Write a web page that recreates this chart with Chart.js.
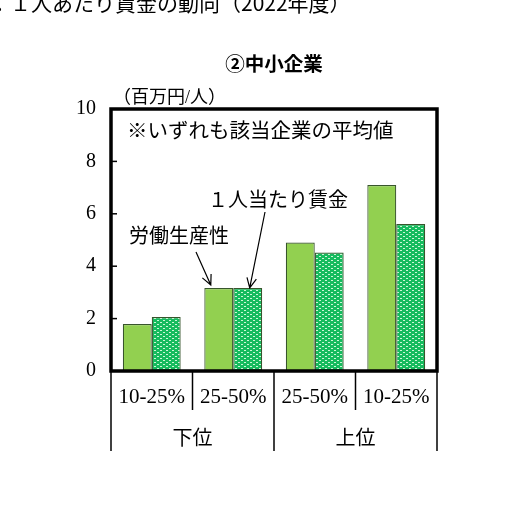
<!DOCTYPE html>
<html>
<head>
<meta charset="utf-8">
<script src="https://cdn.jsdelivr.net/npm/chart.js@4/dist/chart.umd.min.js"></script>
<style>
  html, body { margin: 0; padding: 0; background: #fff; }
  #wrap { width: 513px; height: 532px; position: relative; }
</style>
</head>
<body>
<div id="wrap"><canvas id="c" width="513" height="532"></canvas></div>
<script>
// values (百万円/人)
const categories = ["10-25%", "25-50%", "25-50%", "10-25%"];
const groups = ["下位", "上位"];
const productivity = [1.79, 3.17, 4.9, 7.1];
const wagePerHead = [2.06, 3.17, 4.52, 5.61];
const seriesNames = ["労働生産性", "１人当たり賃金"];

const serif = "'Liberation Serif', 'Noto Sans CJK JP', serif";
const cjk = "'Noto Sans CJK JP', sans-serif";

// dotted green fill for the wage bars
function makePattern() {
  const p = document.createElement("canvas");
  p.width = 6;
  p.height = 4;
  const g = p.getContext("2d");
  g.fillStyle = "#16bb5e";
  g.fillRect(0, 0, 6, 4);
  g.fillStyle = "#cdf7d6";
  g.fillRect(1, 0, 2, 1);
  g.fillRect(4, 2, 2, 1);
  return g.createPattern(p, "repeat");
}

function arrow(ctx, x1, y1, x2, y2) {
  const a = Math.atan2(y2 - y1, x2 - x1);
  const h = 11;
  ctx.beginPath();
  ctx.moveTo(x1, y1);
  ctx.lineTo(x2, y2);
  ctx.moveTo(x2 - h * Math.cos(a - 0.45), y2 - h * Math.sin(a - 0.45));
  ctx.lineTo(x2, y2);
  ctx.lineTo(x2 - h * Math.cos(a + 0.45), y2 - h * Math.sin(a + 0.45));
  ctx.stroke();
}

const decorations = {
  id: "decorations",
  afterDatasetsDraw(chart) {
    const ctx = chart.ctx;
    const area = chart.chartArea;
    const x = chart.scales.x;
    const y = chart.scales.y;
    const step = (x.right - x.left) / categories.length;
    ctx.save();

    // titles
    ctx.fillStyle = "#000";
    ctx.textBaseline = "alphabetic";
    ctx.textAlign = "left";
    ctx.font = "21px " + cjk;
    ctx.fillText("：１人あたり賃金の動向（2022年度）", -11, 11);
    ctx.textAlign = "center";
    ctx.font = "bold 19.5px " + cjk;
    ctx.fillText("②中小企業", (area.left + area.right) / 2, 71);

    // unit
    ctx.textAlign = "left";
    ctx.font = "18px " + serif;
    ctx.fillText("（百万円/人）", 113, 103);

    // inner tick marks on y
    ctx.strokeStyle = "#000";
    ctx.lineWidth = 1.5;
    for (let v = 2; v < 10; v += 2) {
      const py = y.getPixelForValue(v);
      ctx.beginPath();
      ctx.moveTo(area.left, py);
      ctx.lineTo(area.left + 6, py);
      ctx.stroke();
    }

    // category separators under the axis
    ctx.lineWidth = 1.5;
    for (let i = 0; i <= categories.length; i++) {
      const px = x.left + i * step;
      const long = i % 2 === 0;
      ctx.beginPath();
      ctx.moveTo(px, area.bottom);
      ctx.lineTo(px, area.bottom + (long ? 80 : 39));
      ctx.stroke();
    }

    // group labels
    ctx.textAlign = "center";
    ctx.font = "20px " + serif;
    groups.forEach((g, i) => {
      const cx = (x.getPixelForValue(i * 2) + x.getPixelForValue(i * 2 + 1)) / 2;
      ctx.fillText(g, cx, area.bottom + 74);
    });

    // plot frame
    ctx.lineWidth = 3.5;
    ctx.strokeRect(area.left, area.top, area.right - area.left, area.bottom - area.top);

    // notes and series labels
    ctx.textAlign = "left";
    ctx.font = "20.5px " + serif;
    ctx.fillText("※いずれも該当企業の平均値", area.left + 16, 138);
    ctx.font = "20px " + serif;
    ctx.fillText(seriesNames[1], 208, 207);
    ctx.fillText(seriesNames[0], 129, 243);

    // arrows to the second group of bars
    const b0 = chart.getDatasetMeta(0).data[1];
    const b1 = chart.getDatasetMeta(1).data[1];
    ctx.lineWidth = 1.2;
    arrow(ctx, 196, 252, b0.x - 8, b0.y - 3);
    arrow(ctx, 265, 212, b1.x + 2, b1.y);
    ctx.restore();
  }
};

new Chart(document.getElementById("c"), {
  type: "bar",
  data: {
    labels: categories,
    datasets: [
      {
        label: seriesNames[0],
        data: productivity,
        backgroundColor: "#92d050",
        borderColor: "#38552c",
        borderWidth: 1.2
      },
      {
        label: seriesNames[1],
        data: wagePerHead,
        backgroundColor: makePattern(),
        borderColor: "#38552c",
        borderWidth: 1.2
      }
    ]
  },
  options: {
    responsive: false,
    animation: false,
    layout: { padding: { left: 61, right: 76, top: 109, bottom: 81 } },
    datasets: { bar: { categoryPercentage: 0.71, barPercentage: 1 } },
    plugins: { legend: { display: false }, tooltip: { enabled: false } },
    scales: {
      x: {
        grid: { display: false, drawTicks: false },
        border: { display: false },
        ticks: { color: "#000", font: { family: serif, size: 21 }, padding: 14, maxRotation: 0, autoSkip: false },
        afterFit: (s) => { s.height = 80; }
      },
      y: {
        min: 0,
        max: 10,
        grid: { display: false, drawTicks: false },
        border: { display: false },
        ticks: { stepSize: 2, color: "#000", font: { family: serif, size: 20 }, padding: 15 },
        afterFit: (s) => { s.width = 50; }
      }
    }
  },
  plugins: [decorations]
});
</script>
</body>
</html>
